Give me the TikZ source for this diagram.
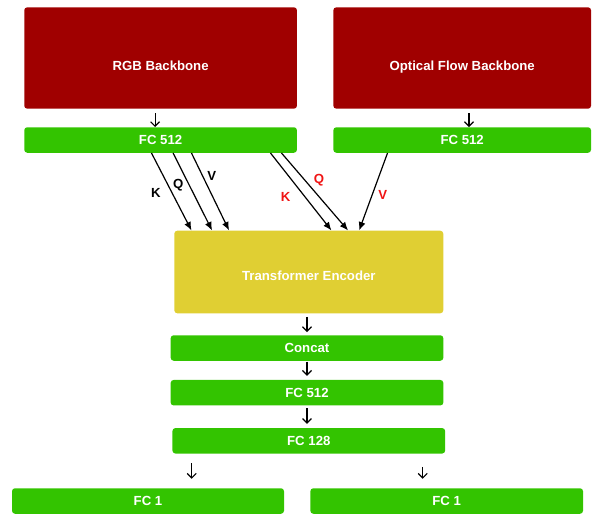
\documentclass[tikz,border=0pt]{standalone}
\usepackage{fontspec}
\setmainfont{Liberation Sans}
\usepackage{tikz}
\usetikzlibrary{arrows}
\usetikzlibrary{arrows.meta}
\definecolor{backbonered}{HTML}{A00000}
\definecolor{fcgreen}{HTML}{33C400}
\definecolor{encyellow}{HTML}{E0CF33}
\definecolor{labelred}{HTML}{F01414}

\begin{document}
\begin{tikzpicture}[
    x=1pt, y=-1pt,
    block/.style={rounded corners=3pt, text=white, inner sep=0pt,
      font=\bfseries\fontsize{13.2}{15}\selectfont},
    backbone/.style={block, fill=backbonered, minimum height=101.4pt,
      text height=28.4pt, text depth=3pt},
    fcbox/.style={block, fill=fcgreen, minimum height=25.5pt, minimum width=272.7pt},
    arr/.style={-{Straight Barb[length=4.5pt,width=9pt]}, line width=1.2pt},
    attn/.style={-{Latex[length=8.5pt,width=7pt]}, line width=1.2pt},
    lbl/.style={font=\bfseries\fontsize{13.2}{15}\selectfont}]

    \useasboundingbox (0,0) rectangle (595,515);

    % backbones
    \node [backbone, minimum width=272.7pt] (rgb) at (160.6,58) {RGB Backbone};
    \node [backbone, minimum width=257.7pt] (flow) at (462.2,58) {Optical Flow Backbone};
    \node [fcbox] (fcrgb) at (160.6,140) {FC 512};
    \node [fcbox, minimum width=257.7pt] (fcflow) at (462.2,140) {FC 512};

    \draw [arr] ([xshift=-5.5pt,yshift=-4.5pt]rgb.south) -- ([xshift=-5.5pt]fcrgb.north);
    \draw [arr] ([xshift=6.8pt,yshift=-4.5pt]flow.south) -- ([xshift=6.8pt]fcflow.north);

    % transformer
    \node [block, fill=encyellow, minimum width=269pt, minimum height=82.6pt,
      text height=20.4pt, text depth=3pt] (enc) at (308.8,272) {Transformer Encoder};

    \draw [attn] ([xshift=127.4pt]fcrgb.south west) -- ([xshift=17.4pt]enc.north west);
    \draw [attn] ([xshift=149pt]fcrgb.south west) -- ([xshift=38pt]enc.north west);
    \draw [attn] ([xshift=167.4pt]fcrgb.south west) -- ([xshift=55pt]enc.north west);
    \draw [attn] ([xshift=246.4pt]fcrgb.south west) -- ([xshift=157.4pt]enc.north west);
    \draw [attn] ([xshift=257.4pt]fcrgb.south west) -- ([xshift=174pt]enc.north west);
    \draw [attn] ([xshift=54.4pt]fcflow.south west) -- ([xshift=185pt]enc.north west);

    \node [lbl] (k1) at (156,192.7) {K};
    \node [lbl] (q1) at (178.3,185) {Q};
    \node [lbl] (v1) at (211.7,176) {V};
    \node [lbl, text=labelred] (k2) at (285.7,196.7) {K};
    \node [lbl, text=labelred] (q2) at (319,180) {Q};
    \node [lbl, text=labelred] (v2) at (382.7,195) {V};

    % head
    \node [fcbox] (concat) at (307,348) {Concat};
    \node [fcbox] (fc512) at (307,392.7) {FC 512};
    \node [fcbox] (fc128) at (308.8,440.8) {FC 128};
    \node [fcbox, minimum width=272pt] (fcl) at (148,501) {FC 1};
    \node [fcbox] (fcr) at (446.7,501) {FC 1};

    \draw [arr] ([xshift=-1.8pt,yshift=-3.4pt]enc.south) -- ([yshift=3pt]concat.north);
    \draw [arr] ([yshift=-0.7pt]concat.south) -- ([yshift=4pt]fc512.north);
    \draw [arr] ([yshift=-2.7pt]fc512.south) -- ([yshift=4pt,xshift=-1.8pt]fc128.north);
    \draw [arr] ([xshift=-117.1pt,yshift=-9.3pt]fc128.south) -- ([xshift=43.7pt,yshift=9.3pt]fcl.north);
    \draw [arr] ([xshift=113.9pt,yshift=-13pt]fc128.south) -- ([xshift=-24pt,yshift=9.3pt]fcr.north);

  \end{tikzpicture}
\end{document}
